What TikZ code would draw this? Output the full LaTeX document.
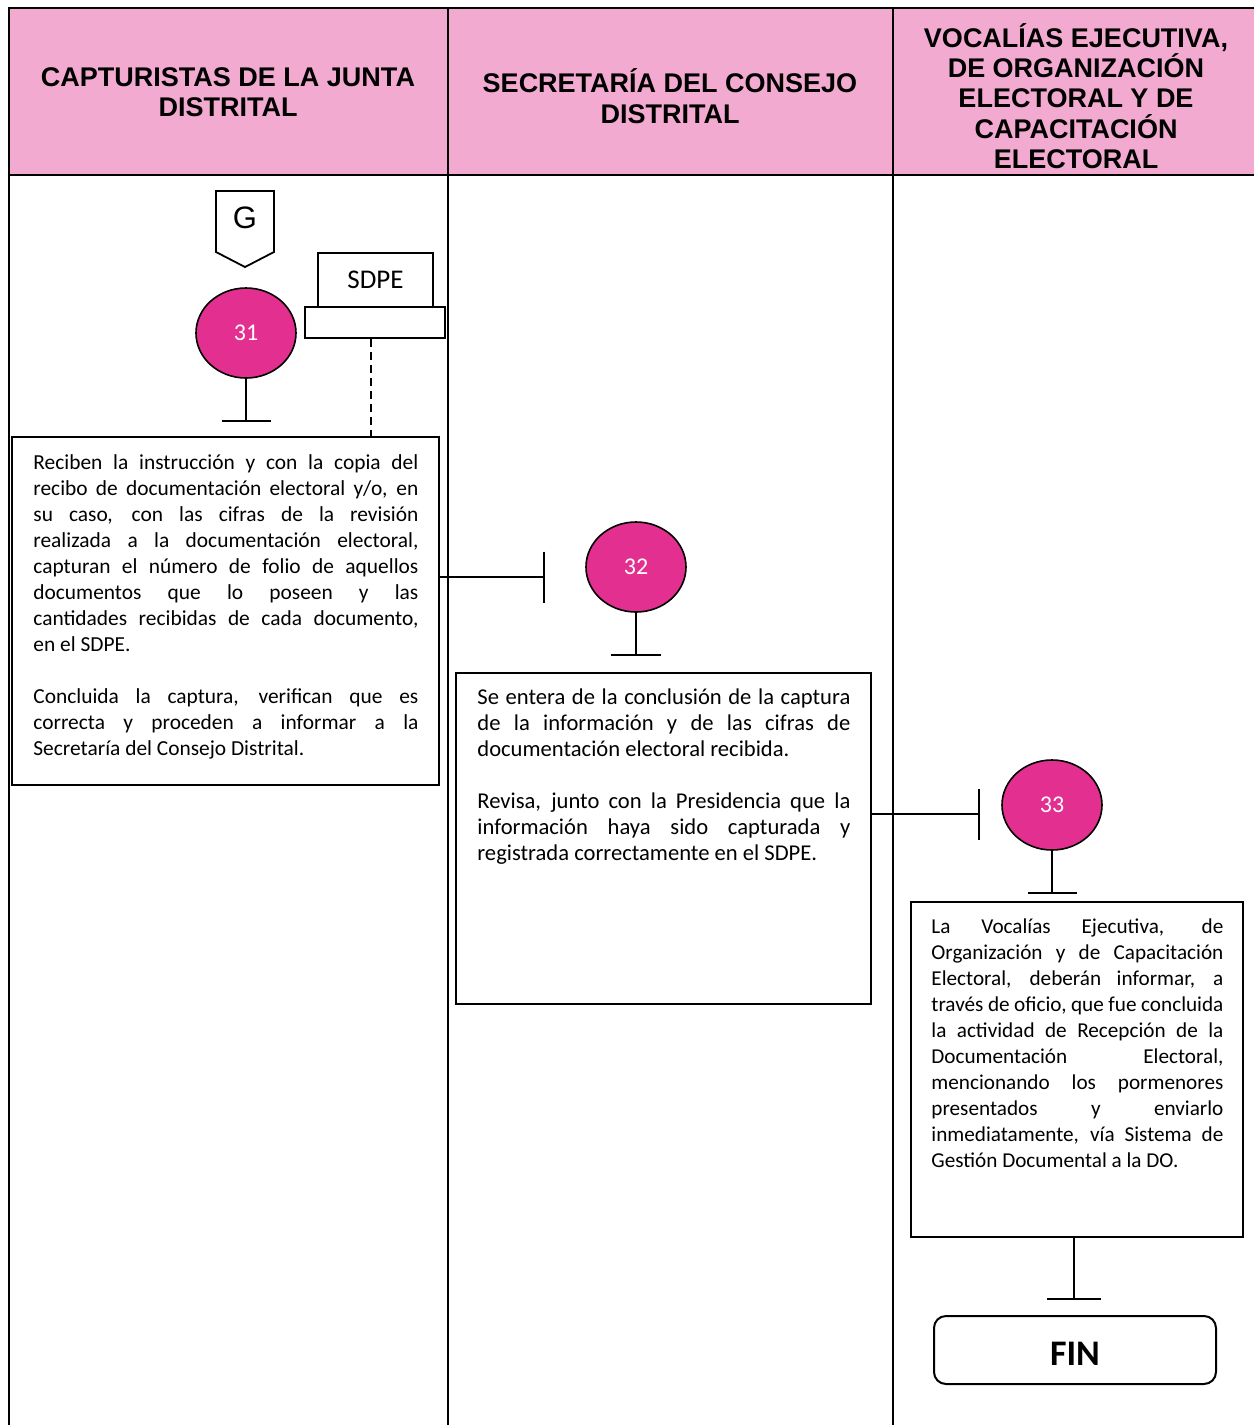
\documentclass[tikz,border=0pt]{standalone}
\usepackage{fontspec}
\setmainfont{Carlito}
\newfontfamily\hdrfont{Liberation Sans}
\usetikzlibrary{arrows.meta,shapes.geometric}
\definecolor{hdrpink}{RGB}{242,170,208}
\definecolor{stepmag}{RGB}{227,47,143}
\newcommand\jl[1]{\hbox to\hsize{#1}}
\begin{document}
\begin{tikzpicture}[x=0.5pt,y=-0.5pt,
  frame/.style={line width=1.2pt},
  boxst/.style={draw, line width=1pt, inner sep=0pt},
  stepnum/.style={ellipse, draw, line width=0.8pt, fill=stepmag, text=white,
    minimum width=50pt, minimum height=45pt, inner sep=0pt,
    font=\fontsize{12}{14}\selectfont},
  hdr/.style={align=center, font=\hdrfont\bfseries\fontsize{13.5}{15.2}\selectfont},
  bodytxt/.style={anchor=north west, inner sep=0pt, font=\fontsize{#1}{13}\selectfont},
  tee/.style={line width=1pt, -{Bar[width=#1]}},
  dlink/.style={line width=0.6pt, dash pattern=on 4pt off 2.5pt},
]
\useasboundingbox (0,0) rectangle (1254,1425);
% header
\fill[hdrpink] (9,8) rectangle (1254,175);
\draw[frame] (1254,8) -- (9,8) -- (9,1425);
\draw[frame] (9,175) -- (1254,175);
\draw[frame] (448,8) -- (448,1425);
\draw[frame] (893,8) -- (893,1425);
\node[hdr] (h1) at (228,92) {CAPTURISTAS DE LA JUNTA\\DISTRITAL};
\node[hdr] (h2) at (670,96) {SECRETARÍA DEL CONSEJO\\DISTRITAL};
\node[hdr] (h3) at (1076,96) {VOCALÍAS EJECUTIVA,\\DE ORGANIZACIÓN\\ELECTORAL Y DE\\CAPACITACIÓN\\ELECTORAL};
% off-page connector G
\node[font=\hdrfont\fontsize{15.5}{18}\selectfont, inner sep=0pt] (g) at (245,218) {G};
\draw[line width=0.9pt] (216,191) -- (274,191) -- (274,252) -- (245,267) -- (216,252) -- cycle;
% SDPE
\node[boxst, line width=0.9pt, minimum width=57.5pt, minimum height=27pt,
  font=\fontsize{13.5}{15}\selectfont] (sdpe) at (375.5,280) {SDPE};
\node[boxst, line width=0.9pt, minimum width=70pt, minimum height=15.5pt] (sdpebase) at (375,322.5) {};
% steps
\node[stepnum] (c31) at (246,333) {31};
\node[stepnum] (c32) at (636,567) {32};
\node[stepnum] (c33) at (1052,805) {33};
% boxes
\node[boxst, minimum width=213.5pt, minimum height=174pt] (b1) at (225.5,611) {};
\node[boxst, minimum width=207.5pt, minimum height=165.5pt] (b2) at (663.5,838.5) {};
\node[boxst, minimum width=166pt, minimum height=167.5pt] (b3) at (1077,1069.5) {};
\node[boxst, rounded corners=6pt, minimum width=141pt, minimum height=34pt] (fin) at (1075,1350) {};
\node[font=\bfseries\fontsize{18}{20}\selectfont, inner sep=0pt] (fintxt) at (1075,1354) {FIN};
% texts
\node[bodytxt=10.7] (t1) at (33,451) {\vbox{\hsize=192.5pt
\jl{\strut Reciben la instrucción y con la copia del}
\jl{recibo de documentación electoral y/o, en}
\jl{su caso, con las cifras de la revisión}
\jl{realizada a la documentación electoral,}
\jl{capturan el número de folio de aquellos}
\jl{documentos que lo poseen y las}
\jl{cantidades recibidas de cada documento,}
\hbox{en el SDPE.}
\vskip13pt
\jl{Concluida la captura, verifican que es}
\jl{correcta y proceden a informar a la}
\hbox{Secretaría del Consejo Distrital.}}};
\node[bodytxt=11.3] (t2) at (477,686) {\vbox{\hsize=186.5pt
\jl{\strut Se entera de la conclusión de la captura}
\jl{de la información y de las cifras de}
\hbox{documentación electoral recibida.}
\vskip13pt
\jl{Revisa, junto con la Presidencia que la}
\jl{información haya sido capturada y}
\hbox{registrada correctamente en el SDPE.}}};
\node[bodytxt=10.6] (t3) at (931,915) {\vbox{\hsize=146pt
\jl{\strut La Vocalías Ejecutiva, de}
\jl{Organización y de Capacitación}
\jl{Electoral, deberán informar, a}
\jl{través de oficio, que fue concluida}
\jl{la actividad de Recepción de la}
\jl{Documentación Electoral,}
\jl{mencionando los pormenores}
\jl{presentados y enviarlo}
\jl{inmediatamente, vía Sistema de}
\hbox{Gestión Documental a la DO.}}};
% connectors
\coordinate (e31) at (246,422);
\coordinate (e32) at (636,656);
\coordinate (e33) at (1052,894);
\coordinate (j1) at (545,577);
\coordinate (j2) at (980,814);
\coordinate (j3) at (1074,1300);
\draw[tee=24.5pt] (c31.south) -- (e31);
\draw[tee=25pt] (c32.south) -- (e32);
\draw[tee=24.5pt] (c33.south) -- (e33);
\draw[tee=25.5pt] (j1 -| b1.east) -- (j1);
\draw[tee=25.5pt] (j2 -| b2.east) -- (j2);
\draw[tee=27pt] (j3 |- b3.south) -- (j3);
\draw[dlink] ([xshift=-2pt]sdpebase.south) -- ([xshift=-2pt]sdpebase.south |- b1.north);
\end{tikzpicture}
\end{document}
